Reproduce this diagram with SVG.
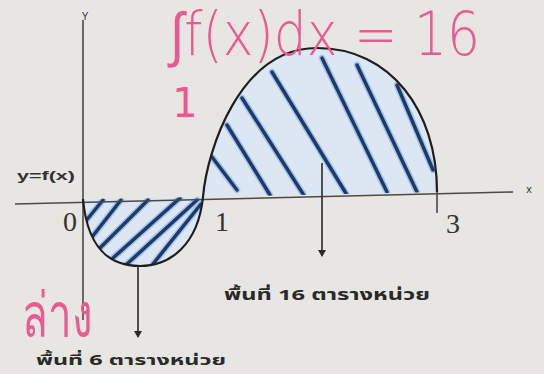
<svg xmlns="http://www.w3.org/2000/svg" width="544" height="374" viewBox="0 0 544 374">
<style>
.axis{stroke:#4a4a4a;stroke-width:1.6;fill:none}
.curve{stroke:#1e1e1e;stroke-width:2.2;fill:none}
.region{fill:#dce7f3;stroke:none}
.hatch{stroke:#1f3a6a;stroke-width:3.5;stroke-linecap:round;fill:none}
.glow{stroke:#5b9be0;stroke-width:6.5;stroke-linecap:round;fill:none;opacity:0.45}
.lbl{font-family:"Liberation Serif",serif;fill:#333}
.small{font-family:"Liberation Sans",sans-serif;fill:#333}
.thai{font-family:"Noto Sans Thai","Noto Sans","DejaVu Sans",sans-serif;fill:#2a2a2a;font-weight:bold}
.pink{fill:#ea5a92;font-family:"DejaVu Sans","Noto Sans",sans-serif}
.arrow{stroke:#2a2a2a;stroke-width:1.6;fill:none}
</style>
<defs>
<marker id="ah" markerWidth="8" markerHeight="8" refX="6" refY="4" orient="auto" markerUnits="userSpaceOnUse"><path d="M0,0 L7,4 L0,8 Z" fill="#2a2a2a"/></marker>
<clipPath id="cneg"><path d="M83,199 C88,255 115,266 140,266 C170,266 198,245 203,197 Z"/></clipPath>
<clipPath id="cpos"><path d="M203,197 C207,150 240,48 317,48 C390,48 437,110 437,192 Z"/></clipPath>
</defs>
<rect width="544" height="374" fill="#e8e6e2"/>
<g id="regions">
<path class="region" d="M83,199 C88,255 115,266 140,266 C170,266 198,245 203,197 Z"/>
<path class="region" d="M203,197 C207,150 240,48 317,48 C390,48 437,110 437,192 Z"/>
</g>
<g id="hatch-neg" clip-path="url(#cneg)">
<g class="glow">
<line x1="85" y1="222" x2="103" y2="200"/><line x1="92" y1="237" x2="121" y2="200"/><line x1="100" y1="248" x2="148" y2="200"/><line x1="113" y1="258" x2="180" y2="198"/><line x1="127" y1="264" x2="197" y2="200"/><line x1="153" y1="264" x2="201" y2="204"/>
</g>
<g class="hatch">
<line x1="85" y1="222" x2="103" y2="200"/><line x1="92" y1="237" x2="121" y2="200"/><line x1="100" y1="248" x2="148" y2="200"/><line x1="113" y1="258" x2="180" y2="198"/><line x1="127" y1="264" x2="197" y2="200"/><line x1="153" y1="264" x2="201" y2="204"/>
</g>
</g>
<g id="hatch-pos" clip-path="url(#cpos)">
<g class="glow">
<line x1="212" y1="157" x2="237" y2="190"/><line x1="227" y1="125" x2="270" y2="195"/><line x1="242" y1="98" x2="305" y2="197"/><line x1="272" y1="72" x2="347" y2="195"/><line x1="322" y1="58" x2="387" y2="192"/><line x1="357" y1="65" x2="417" y2="192"/><line x1="397" y1="85" x2="433" y2="170"/>
</g>
<g class="hatch">
<line x1="212" y1="157" x2="237" y2="190"/><line x1="227" y1="125" x2="270" y2="195"/><line x1="242" y1="98" x2="305" y2="197"/><line x1="272" y1="72" x2="347" y2="195"/><line x1="322" y1="58" x2="387" y2="192"/><line x1="357" y1="65" x2="417" y2="192"/><line x1="397" y1="85" x2="433" y2="170"/>
</g>
</g>
<g id="axes">
<line class="axis" x1="15" y1="204" x2="513" y2="192"/>
<line class="axis" x1="83" y1="20" x2="83" y2="320"/>
<line class="axis" x1="437" y1="188" x2="437" y2="213"/>
<text class="small" x="85" y="20" font-size="10" text-anchor="middle">Y</text>
<text class="small" x="529" y="193" font-size="11" text-anchor="middle">x</text>
<text class="small" x="17" y="180" font-size="12.5" font-weight="bold" textLength="58" lengthAdjust="spacingAndGlyphs">y=f(x)</text>
<text class="lbl" x="70" y="231" font-size="28" text-anchor="middle">0</text>
<text class="lbl" x="222" y="231" font-size="28" text-anchor="middle">1</text>
<text class="lbl" x="453" y="233" font-size="28" text-anchor="middle">3</text>
</g>
<g id="curve">
<path class="curve" d="M83,199 C88,255 115,266 140,266 C170,266 198,245 203,197 C207,150 240,48 317,48 C390,48 437,110 437,192"/>
</g>
<g id="connectors">
<line class="arrow" x1="138" y1="266" x2="138" y2="337" marker-end="url(#ah)"/>
<line class="arrow" x1="322" y1="163" x2="322" y2="256" marker-end="url(#ah)"/>
</g>
<g id="label-16">
<text class="thai" x="224" y="300" font-size="15" textLength="206" lengthAdjust="spacingAndGlyphs">พื้นที่ 16 ตารางหน่วย</text>
</g>
<g id="label-6">
<text class="thai" x="36" y="365" font-size="14.5" textLength="190" lengthAdjust="spacingAndGlyphs">พื้นที่ 6 ตารางหน่วย</text>
</g>
<g id="pink-notes">
<text class="pink" x="170" y="55" font-size="60" font-weight="300" textLength="310" lengthAdjust="spacingAndGlyphs">∫f(x)dx = 16</text>
<text class="pink" x="185" y="117" font-size="40" text-anchor="middle">1</text>
<text class="pink" x="22" y="337" font-size="62" textLength="70" lengthAdjust="spacingAndGlyphs">ล่าง</text>
</g>
</svg>
